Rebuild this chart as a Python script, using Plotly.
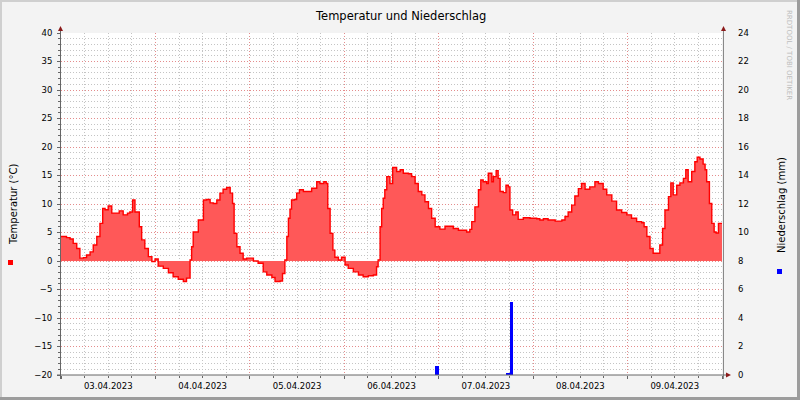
import pandas as pd
import plotly.graph_objects as go

# ---- data ----
start = "2023-04-03 00:00"
temp_hours = [0, 1.4, 2.3, 3.1, 4.0, 4.8, 5.7, 6.5, 7.4, 8.2, 9.1, 9.9, 10.6, 11.2, 12.0, 12.9, 13.7,
              14.8, 15.8, 16.9, 17.5, 18.2, 18.8, 19.4, 19.9, 20.5, 21.3, 22.2, 23.1, 23.9, 24.7, 26.0,
              27.3, 28.5, 29.8, 31.1, 31.9, 32.8, 33.2, 33.6, 34.9, 35.8, 36.2, 37.0, 37.9, 38.7, 39.6,
              40.4, 41.2, 42.1, 43.0, 43.6, 44.0, 44.7, 45.5, 46.3, 47.2, 48.0, 48.9, 50.1, 51.0, 51.4,
              52.3, 53.6, 54.4, 55.7, 56.3, 56.9, 57.4, 57.8, 58.2, 58.6, 59.3, 59.9, 60.6, 61.6, 62.9,
              63.7, 65.0, 65.8, 66.8, 67.4, 67.8, 68.4, 69.1, 69.6, 70.5, 71.3, 72.2, 73.0, 74.3, 75.6,
              76.8, 78.1, 79.4, 80.2, 80.6, 81.1, 81.5, 81.9, 82.3, 82.8, 83.6, 84.3, 85.3, 86.2, 87.0,
              88.3, 89.1, 90.0, 90.8, 91.7, 92.5, 93.4, 94.2, 95.1, 96.3, 97.6, 98.9, 99.7, 101.0, 102.2,
              103.1, 103.9, 104.4, 105.2, 106.1, 106.7, 107.3, 108.2, 108.6, 109.5, 109.9, 110.6, 111.1,
              111.6, 112.4, 113.1, 113.7, 114.1, 114.8, 115.6, 116.2, 117.5, 119.2, 120.9, 121.7, 122.6,
              123.8, 125.6, 127.3, 128.1, 128.9, 129.8, 130.6, 131.5, 132.3, 133.2, 134.4, 135.7, 136.6,
              137.8, 138.7, 140.0, 141.2, 142.5, 143.8, 145.0, 146.3, 147.6, 148.2, 148.9, 149.7, 150.5,
              151.4, 152.2, 152.9, 153.5, 154.4, 155.0, 155.6, 156.5, 157.3, 158.2, 158.8, 159.4, 160.3,
              161.1, 161.7, 162.4, 163.2, 163.7, 164.1, 164.8, 165.4, 166.0, 166.5, 167.1, 167.5, 168.0]
temp_values = [4.3, 4.1, 3.85, 3.1, 2.2, 0.5, 0.6, 1.05, 1.6, 2.8, 4.3, 6.6, 9.2, 9.0, 9.65, 8.4, 8.4,
               8.8, 8.1, 8.4, 8.6, 10.7, 8.6, 8.6, 6.0, 3.7, 2.2, 0.76, -0.1, 0.35, -0.9, -1.3,
               -2.05, -2.75, -3.2, -3.6, -3.0, 0.2, 2.5, 5.1, 7.2, 7.2, 10.7, 10.8, 10.2, 10.1, 10.7,
               11.9, 12.6, 12.9, 11.9, 10.1, 4.85, 2.5, 1.35, 0.35, 0.5, 0.5, 0.0, -0.4, -0.4, -1.9,
               -2.45, -2.9, -3.6, -3.5, -2.2, 0.17, 4.3, 7.5, 9.1, 10.7, 10.8, 11.9, 12.5, 12.2, 12.2,
               12.75, 13.9, 13.6, 13.9, 13.6, 9.2, 4.85, 1.9, 0.65, 0.17, 0.65, -0.7, -1.3, -1.9, -2.45,
               -2.75, -2.6, -2.45, -1.0, 0.2, 6.0, 9.2, 11.0, 12.5, 14.8, 13.6, 16.4, 15.7, 16.0, 15.4,
               15.3, 14.8, 13.6, 12.2, 11.6, 10.4, 9.2, 7.5, 6.0, 5.6, 6.1, 6.1, 5.7, 5.4, 5.4,
               5.1, 5.55, 6.9, 9.5, 12.5, 14.2, 13.9, 13.6, 15.4, 13.9, 14.8, 15.85, 14.5,
               12.2, 12.0, 13.3, 13.0, 8.95, 8.1, 8.6, 7.3, 7.6, 7.5, 7.4, 7.2, 7.4,
               7.2, 7.0, 7.2, 7.8, 8.6, 9.8, 11.4, 12.7, 13.6, 12.6, 13.0, 13.9, 13.6,
               12.6, 11.6, 10.5, 8.95, 8.5, 8.1, 7.5, 6.9, 6.7, 6.0, 4.3, 2.2, 1.35,
               1.35, 2.8, 5.7, 8.95, 11.3, 13.7, 11.6, 13.3, 13.7, 14.5, 16.0, 13.9, 15.7,
               17.4, 18.2, 17.9, 17.0, 16.0, 13.9, 10.1, 6.6, 5.1, 4.9, 6.6, 6.6, 6.6]
rain_hours = [95.5, 113.5, 114.5]
rain_values = [0.6, 0.1, 5.1]

title = "Temperatur und Niederschlag"
left_title = "Temperatur (°C)"
right_title = "Niederschlag (mm)"
watermark = "RRDTOOL / TOBI OETIKER"

base = pd.Timestamp(start)
t_times = base + pd.to_timedelta(temp_hours, unit="h")
r_times = base + pd.to_timedelta(rain_hours, unit="h")

# ---- layout geometry (pixels) ----
W, H = 800, 400
L, R, T, B = 61, 722, 33, 375
def px(x):
    return (x - L) / (R - L)
def py(y):
    return (B - y) / (B - T)

# minor grid positions (excluding the major ones)
x_minor = [base + pd.Timedelta(hours=h) for h in range(6, 168, 6) if h % 24 != 0]
y_minor = [v for v in range(-20, 41) if v % 5 != 0]

FONT = "DejaVu Sans"
fig = go.Figure()
fig.add_trace(go.Scatter(x=t_times, y=temp_values, mode="lines", line=dict(color="#FF0000", width=1.4, shape="hv"),
                         fill="tozeroy", fillcolor="#FF5858", showlegend=False, hoverinfo="x+y"))
fig.add_trace(go.Bar(x=r_times, y=rain_values, yaxis="y2", marker=dict(color="#0000FF", line=dict(width=0)),
                     width=3600000, showlegend=False))

grid_major = "#E48C8C"
grid_minor = "#C4C4C4"
dash = "1px,2px"

shapes = []
def line(x0, y0, x1, y1, color, width=1):
    shapes.append(dict(type="line", xref="paper", yref="paper", x0=px(x0), y0=py(y0), x1=px(x1), y1=py(y1),
                       line=dict(color=color, width=width), layer="above"))
def tri(pts, color):
    path = "M " + " L ".join(f"{px(a)},{py(b)}" for a, b in pts) + " Z"
    shapes.append(dict(type="path", xref="paper", yref="paper", path=path, fillcolor=color,
                       line=dict(width=0), layer="above"))
def rect(x0, y0, x1, y1, color):
    shapes.append(dict(type="rect", xref="paper", yref="paper", x0=px(x0), y0=py(y0), x1=px(x1), y1=py(y1),
                       fillcolor=color, line=dict(width=0), layer="above"))

axis_col = "#666666"
line(60.5, 379, 60.5, 30, axis_col)
line(723.5, 379, 723.5, 30, "#888888")
line(57, 375, 727, 375, axis_col)
arrow = "#8B1A1A"
tri([(58, 31), (63, 31), (60.5, 26)], arrow)
tri([(721, 31), (726, 31), (723.5, 26)], arrow)
tri([(726, 372.5), (726, 377.5), (731, 375)], arrow)
rect(8, 260, 13, 265, "#FF0000")
rect(777, 269, 782, 274, "#0000FF")
# frame
rect(0, 0, 800, 2, "#CFCFCF")
rect(0, 0, 2, 400, "#CFCFCF")
rect(0, 397, 800, 400, "#9C9C9C")
rect(797, 0, 800, 400, "#9C9C9C")

annotations = [
    dict(text=title, x=px(400), y=py(16), xref="paper", yref="paper", showarrow=False,
         font=dict(family=FONT, size=11.5, color="#000"), xanchor="center", yanchor="middle"),
    dict(text=left_title, x=px(13), y=py(205), xref="paper", yref="paper", showarrow=False, textangle=-90,
         font=dict(family=FONT, size=10, color="#000"), xanchor="center", yanchor="middle"),
    dict(text=right_title, x=px(781), y=py(205), xref="paper", yref="paper", showarrow=False, textangle=-90,
         font=dict(family=FONT, size=10, color="#000"), xanchor="center", yanchor="middle"),
    dict(text=watermark, x=px(789), y=py(55), xref="paper", yref="paper", showarrow=False, textangle=90,
         font=dict(family=FONT, size=7, color="#BDBDBD"), xanchor="center", yanchor="middle"),
]

fig.update_layout(
    width=W, height=H, margin=dict(l=L, r=W - R, t=T, b=H - B, pad=0),
    paper_bgcolor="#F3F3F3", plot_bgcolor="#FFFFFF",
    font=dict(family=FONT, size=8.5, color="#000"),
    bargap=0, shapes=shapes, annotations=annotations, showlegend=False,
    xaxis=dict(type="date", range=[base, base + pd.Timedelta(days=7)], dtick=86400000,
               tickformat="%d.%m.%Y", ticklabelmode="period", showgrid=True, gridcolor=grid_major,
               griddash=dash, gridwidth=1, zeroline=False, showline=False, ticks="outside", ticklen=3,
               tickcolor=axis_col, automargin=False,
               minor=dict(tickmode="array", tickvals=x_minor, showgrid=True, gridcolor=grid_minor,
                          griddash=dash, ticks="outside", ticklen=2, tickcolor=axis_col)),
    yaxis=dict(range=[-20, 40], dtick=5, showgrid=True, gridcolor=grid_major, griddash=dash,
               zeroline=False, showline=False, ticks="outside", ticklen=3, tickcolor=axis_col,
               ticklabelstandoff=3, automargin=False,
               minor=dict(tickmode="array", tickvals=y_minor, showgrid=True, gridcolor=grid_minor,
                          griddash=dash, ticks="outside", ticklen=2, tickcolor=axis_col)),
    yaxis2=dict(range=[0, 24], dtick=2, overlaying="y", side="right", showgrid=False, zeroline=False,
                showline=False, ticks="", ticklabelstandoff=15, automargin=False),
)

fig.write_html("out.html", config={"displayModeBar": False},
               post_script="document.body.style.margin='0';document.body.style.padding='0';")
